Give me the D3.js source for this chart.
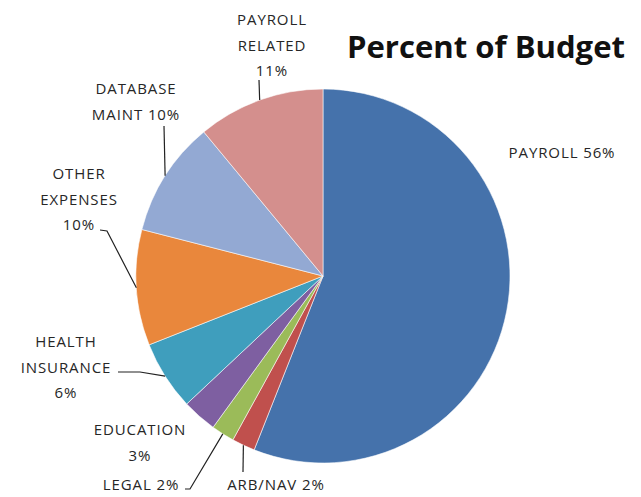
<!DOCTYPE html>
<html>
<head>
<meta charset="utf-8">
<script src="https://cdn.jsdelivr.net/npm/d3@7"></script>
<style>
  body { margin: 0; background: #fff; }
  text { font-family: 'Open Sans', 'Noto Sans', sans-serif; }
</style>
</head>
<body>
<svg width="641" height="497"></svg>
<script>
const categories = ['PAYROLL', 'ARB/NAV', 'LEGAL', 'EDUCATION', 'HEALTH INSURANCE',
  'OTHER EXPENSES', 'DATABASE MAINT', 'PAYROLL RELATED'];
const values = [56, 2, 2, 3, 6, 10, 10, 11];
const colors = ['#4572ab', '#c0504d', '#9bbb59', '#7e5fa1', '#3f9ebd',
  '#e9873c', '#93a9d3', '#d48f8d'];
// label text lines, one array per slice
const labelLines = [
  ['PAYROLL 56%'],
  ['ARB/NAV 2%'],
  ['LEGAL 2%'],
  ['EDUCATION', '3%'],
  ['HEALTH', 'INSURANCE', '6%'],
  ['OTHER', 'EXPENSES', '10%'],
  ['DATABASE', 'MAINT 10%'],
  ['PAYROLL', 'RELATED', '11%'],
];

const svg = d3.select('svg');
const CX = 323, CY = 276, R = 187;
const LINE_H = 25.5;

// where each label sits (centre x, first baseline) and the leader elbow points
const LAYOUT = [
  { x: 562, y: 158, leader: null },
  { x: 276, y: 490, leader: [[243, 472]] },
  { x: 141, y: 490, leader: [[190, 489], [185, 489]] },
  { x: 140, y: 435, leader: null },
  { x: 66, y: 347, leader: [[140, 372], [118, 372]] },
  { x: 79, y: 179, leader: [[107, 231], [100, 230]] },
  { x: 136, y: 94, leader: [[164, 126]] },
  { x: 272, y: 25, leader: [[259, 80]] },
];

const data = categories.map((c, i) => ({ cat: c, value: values[i], i }));

const pie = d3.pie().sort(null).value(d => d.value);
const arc = d3.arc().innerRadius(0).outerRadius(R);
const edge = d3.arc().innerRadius(R).outerRadius(R);

const g = svg.append('g').attr('transform', `translate(${CX},${CY})`);
const arcs = pie(data);

g.selectAll('path.slice')
  .data(arcs)
  .join('path')
  .attr('class', 'slice')
  .attr('d', arc)
  .attr('fill', d => colors[d.data.i])
  .attr('stroke', '#fff')
  .attr('stroke-width', 0.8)
  .attr('stroke-opacity', 0.7);

// leader lines from the middle of each slice's outer edge
const line = d3.line();
arcs.forEach(a => {
  const lay = LAYOUT[a.data.i];
  if (!lay.leader) return;
  const [ex, ey] = edge.centroid(a);
  const pts = [[CX + ex, CY + ey]].concat(lay.leader);
  svg.append('path')
    .attr('d', line(pts))
    .attr('fill', 'none')
    .attr('stroke', '#222')
    .attr('stroke-width', 1.2);
});

// labels
data.forEach(d => {
  const lay = LAYOUT[d.i];
  const t = svg.append('text')
    .attr('text-anchor', 'middle')
    .attr('font-size', 15)
    .attr('letter-spacing', 0.9)
    .attr('fill', '#262626');
  labelLines[d.i].forEach((s, k) => {
    t.append('tspan').attr('x', lay.x).attr('y', lay.y + k * LINE_H).text(s);
  });
});

svg.append('text')
  .attr('x', 347)
  .attr('y', 58)
  .attr('font-size', 30)
  .attr('font-weight', 'bold')
  .attr('fill', '#111')
  .attr('textLength', 278)
  .attr('lengthAdjust', 'spacingAndGlyphs')
  .text('Percent of Budget');
</script>
</body>
</html>
